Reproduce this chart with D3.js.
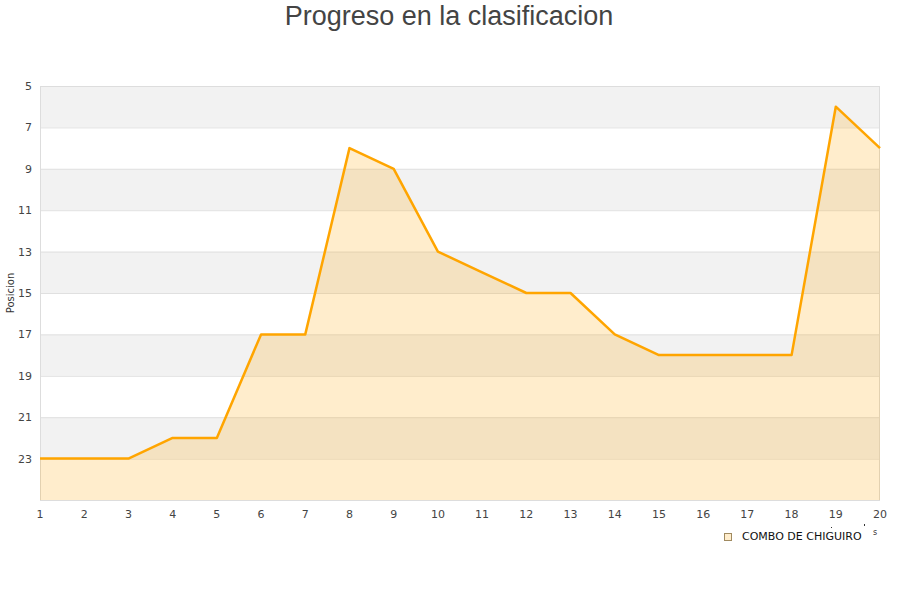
<!DOCTYPE html>
<html><head><meta charset="utf-8">
<script src="https://cdn.jsdelivr.net/npm/d3@7"></script>
<style>body{margin:0;background:#fff;font-family:"DejaVu Sans",sans-serif}</style>
</head><body><svg id="c" width="900" height="600"></svg>
<script>
const jornadas = [1,2,3,4,5,6,7,8,9,10,11,12,13,14,15,16,17,18,19,20];
const posiciones = [23,23,23,22,22,17,17,8,9,13,14,15,15,17,18,18,18,18,6,8];
const yTicks = [5,7,9,11,13,15,17,19,21,23];
const serie = "COMBO DE CHIGUIRO";
const titulo = "Progreso en la clasificacion";

const svg = d3.select("#c");
const m = {l:40, r:880, t:86, b:500};
const x = d3.scaleLinear().domain([1,20]).range([m.l, m.r]);
const y = d3.scaleLinear().domain([5,25]).range([m.t, m.b]);

const bands = d3.range(5,25,2);
svg.selectAll("rect.band").data(bands).enter().append("rect")
  .attr("x", m.l).attr("width", m.r-m.l)
  .attr("y", d=>y(d)).attr("height", d=>y(d+2)-y(d))
  .attr("fill", (d,i)=> i%2===0 ? "#f2f2f2" : "#ffffff");
svg.selectAll("line.g").data(yTicks).enter().append("line")
  .attr("x1", m.l).attr("x2", m.r).attr("y1", d=>y(d)+0.5).attr("y2", d=>y(d)+0.5)
  .attr("stroke", "#e0e0e0").attr("stroke-width",1);
svg.append("rect").attr("x", m.l+0.5).attr("y", m.t+0.5).attr("width", m.r-m.l-1).attr("height", m.b-m.t)
  .attr("fill","none").attr("stroke","#dddddd");

const data = jornadas.map((j,i)=>({j, p:posiciones[i]}));
svg.append("path").datum(data)
  .attr("d", d3.area().x(d=>x(d.j)).y0(y(25)).y1(d=>y(d.p)))
  .attr("fill","rgba(255,165,0,0.2)");
svg.append("path").datum(data)
  .attr("d", d3.line().x(d=>x(d.j)).y(d=>y(d.p)))
  .attr("fill","none").attr("stroke","#ffa500").attr("stroke-width",2.5).attr("stroke-linejoin","round");

svg.selectAll("text.yt").data(yTicks).enter().append("text")
  .attr("x", 32).attr("y", d=>y(d)+4).attr("text-anchor","end")
  .attr("font-size",11).attr("fill","#444").text(d=>d);
svg.selectAll("text.xt").data(jornadas).enter().append("text")
  .attr("x", d=>x(d)).attr("y", 518).attr("text-anchor","middle")
  .attr("font-size",11).attr("fill","#444").text(d=>d);

svg.append("text").attr("transform","translate(14,293) rotate(-90)")
  .attr("text-anchor","middle").attr("font-size",10).attr("fill","#333").text("Posicion");

svg.append("text").attr("x",449).attr("y",25).attr("text-anchor","middle")
  .attr("font-family","'Liberation Sans', Arial, sans-serif")
  .attr("font-size",27).attr("fill","#444").text(titulo);

svg.append("rect").attr("x",724.5).attr("y",533.5).attr("width",7).attr("height",7)
  .attr("fill","#ffedcc").attr("stroke","#a08a60");
svg.append("text").attr("x",742).attr("y",540).attr("font-size",11).attr("fill","#111").text(serie);
svg.append("text").attr("x",873).attr("y",535).attr("font-size",8).attr("fill","#333").text("s");
svg.append("rect").attr("x",831).attr("y",527).attr("width",1).attr("height",1).attr("fill","#333");
svg.append("rect").attr("x",864).attr("y",524).attr("width",1).attr("height",2).attr("fill","#333");
</script></body></html>
